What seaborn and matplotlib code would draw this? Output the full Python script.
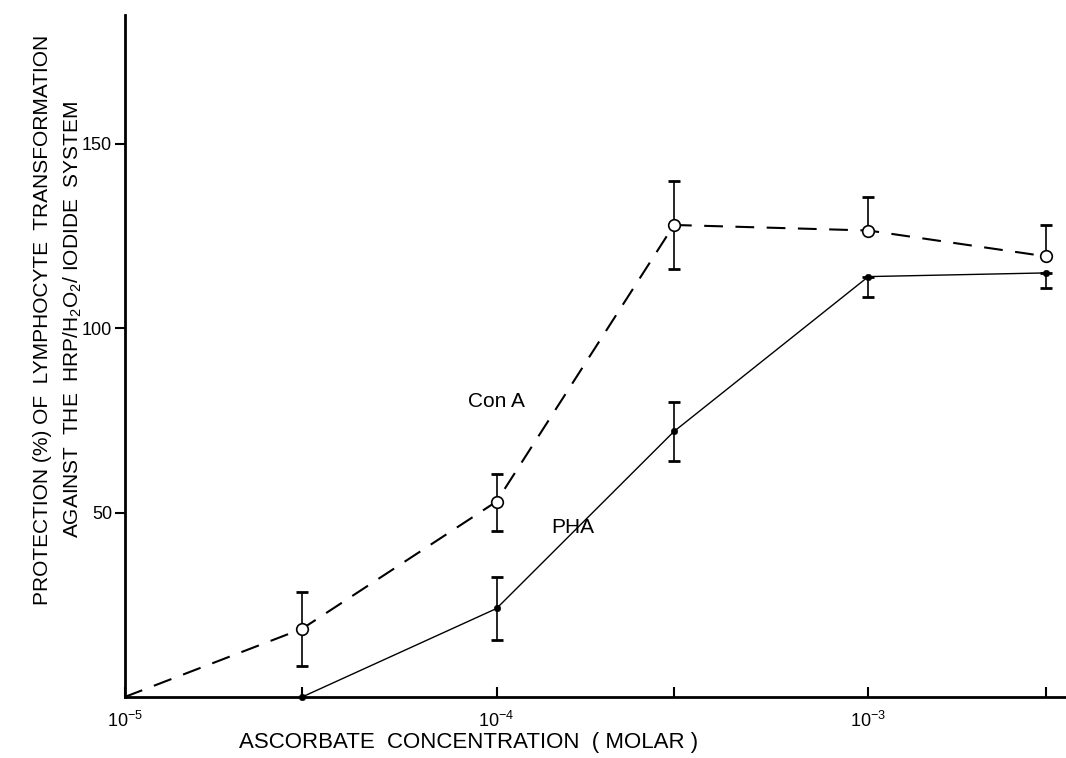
import numpy as np
import pandas as pd
import matplotlib
matplotlib.use("Agg")
import matplotlib.pyplot as plt
import matplotlib.ticker as mticker
import seaborn as sns

# ---- data ----
conc_cona = [1e-5, 3e-5, 1e-4, 3e-4, 1e-3, 3e-3]
cona = [0, 18.5, 53, 128, 126.5, 119.5]
cona_err_low = [0, 10, 8, 12, 0, 0]
cona_err_high = [0, 10, 7.5, 12, 9, 8.5]

conc_pha = [3e-5, 1e-4, 3e-4, 1e-3, 3e-3]
pha = [0, 24, 72, 114, 115]
pha_err_low = [0, 8.5, 8, 5.5, 4]
pha_err_high = [0, 8.5, 8, 0, 0]

y_ticks = [50, 100, 150]
x_major = [1e-5, 1e-4, 1e-3]
x_minor = [3e-5, 3e-4, 3e-3]

sns.set_theme(style="ticks")
plt.rcParams['font.family'] = ['Liberation Sans', 'DejaVu Sans']
plt.rcParams['mathtext.fontset'] = 'custom'
plt.rcParams['mathtext.rm'] = 'Liberation Sans'
plt.rcParams['mathtext.it'] = 'Liberation Sans'
plt.rcParams['text.color'] = 'black'
plt.rcParams['xtick.color'] = 'black'
plt.rcParams['ytick.color'] = 'black'

fig = plt.figure(figsize=(10.66, 7.58), dpi=100)
ax = fig.add_axes([0.117, 0.0805, 0.883, 0.9])

df_c = pd.DataFrame({"conc": conc_cona, "val": cona})
df_p = pd.DataFrame({"conc": conc_pha, "val": pha})

# error bars
ax.errorbar(conc_cona[1:], cona[1:],
            yerr=[cona_err_low[1:], cona_err_high[1:]],
            fmt='none', ecolor='black', elinewidth=1.2, capsize=4, capthick=2, zorder=2)
ax.errorbar(conc_pha[1:], pha[1:],
            yerr=[pha_err_low[1:], pha_err_high[1:]],
            fmt='none', ecolor='black', elinewidth=1.2, capsize=4, capthick=2, zorder=2)

sns.lineplot(data=df_c, x="conc", y="val", ax=ax, color='black',
             linestyle=(0, (9, 6)), linewidth=1.5, zorder=3)
sns.lineplot(data=df_p, x="conc", y="val", ax=ax, color='black',
             linewidth=1.0, zorder=3)
sns.scatterplot(data=df_c.iloc[1:], x="conc", y="val", ax=ax, s=70,
                facecolor='white', edgecolor='black', linewidth=1.2, zorder=4)
pts = sns.scatterplot(data=df_p, x="conc", y="val", ax=ax, s=22,
                      color='black', edgecolor='black', zorder=5)
for c in ax.collections:
    c.set_clip_on(False)

ax.set_xscale('log')
ax.set_xlim(1e-5, 3.4e-3)
ax.set_ylim(0, 185)

ax.xaxis.set_major_locator(mticker.FixedLocator(x_major))
ax.xaxis.set_minor_locator(mticker.FixedLocator(x_minor))
ax.xaxis.set_major_formatter(mticker.LogFormatterMathtext())
ax.xaxis.set_minor_formatter(mticker.NullFormatter())
ax.set_yticks(y_ticks)

ax.tick_params(axis='x', which='both', direction='in', length=7, width=1.5,
               labelsize=13, pad=10, colors='black')
ax.tick_params(axis='y', direction='out', length=7, width=1.5, labelsize=13,
               pad=2, colors='black')

sns.despine(ax=ax)
for s in ['left', 'bottom']:
    ax.spines[s].set_linewidth(2)
    ax.spines[s].set_color('black')

ax.set_xlabel('')
ax.set_ylabel('')

ax.text(1e-4, 80, 'Con A', fontsize=15, ha='center', va='center', color='black')
ax.text(1.6e-4, 46, 'PHA', fontsize=15, ha='center', va='center', color='black')

fig.text(0.44, 0.02, 'ASCORBATE  CONCENTRATION  ( MOLAR )', fontsize=16,
         ha='center', va='center', color='black')
fig.text(0.040, 0.578, 'PROTECTION (%) OF  LYMPHOCYTE  TRANSFORMATION',
         fontsize=15, rotation=90, ha='center', va='center', color='black')
fig.text(0.068, 0.578, r'AGAINST  THE  HRP/H$_2$O$_2$/ IODIDE  SYSTEM',
         fontsize=15, rotation=90, ha='center', va='center', color='black')

fig.savefig('out.png', dpi=100)
